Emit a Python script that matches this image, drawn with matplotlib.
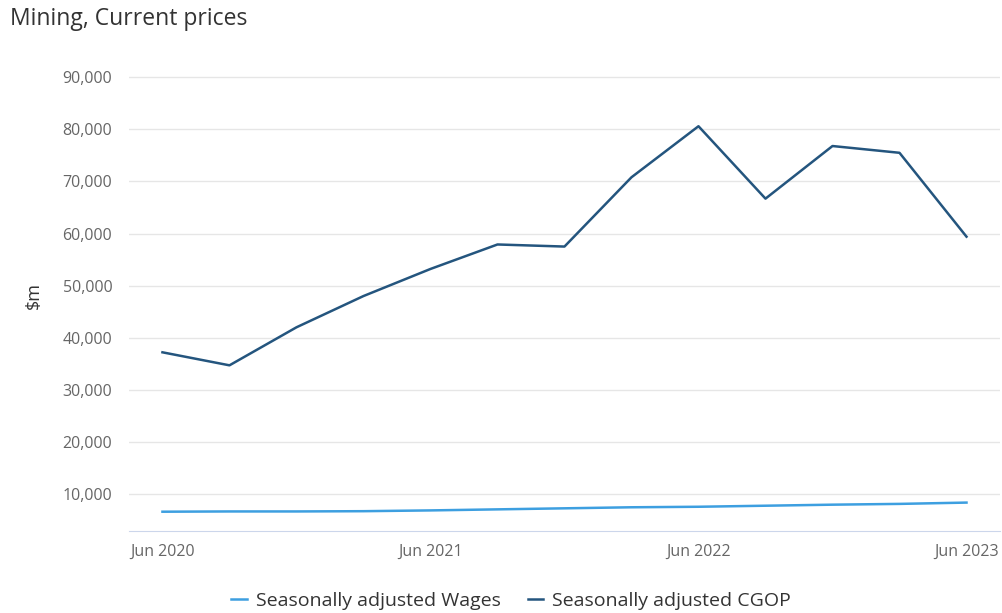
import matplotlib.pyplot as plt
from matplotlib.ticker import FuncFormatter

# quarterly data, Jun 2020 - Jun 2023 ($m)
quarters = ['Jun 2020', 'Sep 2020', 'Dec 2020', 'Mar 2021', 'Jun 2021', 'Sep 2021',
            'Dec 2021', 'Mar 2022', 'Jun 2022', 'Sep 2022', 'Dec 2022', 'Mar 2023', 'Jun 2023']
wages = [6600, 6650, 6650, 6700, 6850, 7050, 7250, 7450, 7550, 7750, 7950, 8100, 8350]
cgop = [37200, 34700, 42000, 48000, 53200, 57900, 57500, 70800, 80600, 66700, 76800, 75500, 59400]
yticks = [10000, 20000, 30000, 40000, 50000, 60000, 70000, 80000, 90000]
xtick_idx = [0, 4, 8, 12]

plt.rcParams['font.family'] = ['Open Sans', 'DejaVu Sans']

fig = plt.figure(figsize=(10.02, 6.13), dpi=100)
ax = fig.add_axes([0.1287, 0.1338, 0.8693, 0.7682])

x = list(range(len(quarters)))
ax.plot(x, wages, color='#3d9fe0', lw=1.8, label='Seasonally adjusted Wages')
ax.plot(x, cgop, color='#24557e', lw=1.8, label='Seasonally adjusted CGOP')

ax.set_xlim(-0.5, 12.5)
ax.set_ylim(2900, 93300)
ax.set_yticks(yticks)
ax.yaxis.set_major_formatter(FuncFormatter(lambda v, p: f'{int(v):,}'))
ax.set_xticks(xtick_idx)
ax.set_xticklabels([quarters[i] for i in xtick_idx])
ax.tick_params(axis='both', length=0, labelsize=11.5, colors='#666666')
ax.tick_params(axis='y', pad=12)
ax.tick_params(axis='x', pad=9)

ax.grid(axis='y', color='#e6e6e6', lw=1)
ax.set_axisbelow(True)
for s in ['top', 'right', 'left']:
    ax.spines[s].set_visible(False)
ax.spines['bottom'].set_color('#ccd6eb')

ax.set_ylabel('$m', fontsize=13, color='#333333', labelpad=14)

fig.text(10 / 1002, 1 - 19 / 613, 'Mining, Current prices', fontsize=16.5,
         color='#333333', va='center', ha='left')

fig.legend(loc='center', bbox_to_anchor=(0.51, 1 - 601 / 613), ncol=2, frameon=False,
           fontsize=14, handlelength=0.8, columnspacing=1.4, handletextpad=0.45,
           labelcolor='#333333')

fig.savefig('out.png', dpi=100)
